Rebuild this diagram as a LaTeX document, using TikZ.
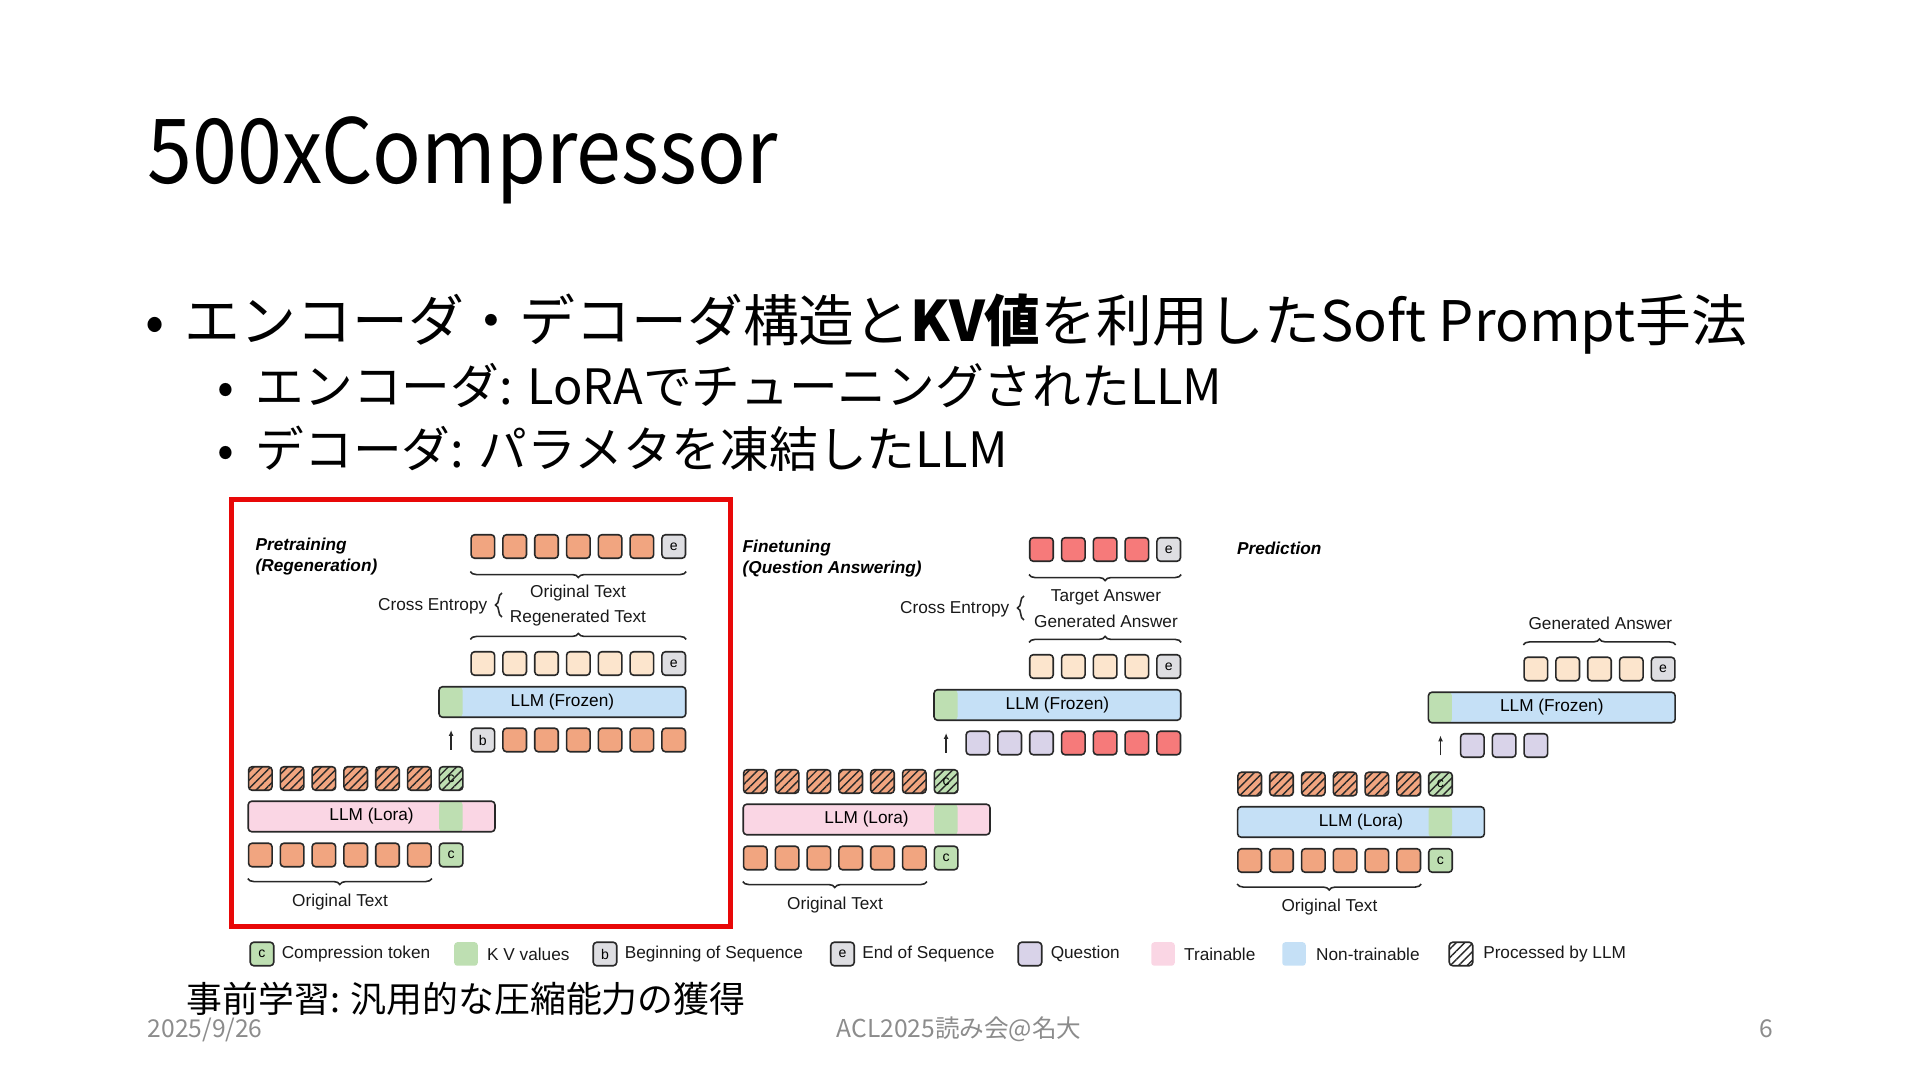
\documentclass[tikz,border=0pt]{standalone}
\usepackage{fontspec}
\setmainfont{Noto Sans CJK JP}
\newfontfamily\arialfont{Liberation Sans}
\usepackage{xcolor}
\usepackage{tikz}
\usetikzlibrary{decorations.pathreplacing}
\usetikzlibrary{positioning,patterns.meta,arrows.meta}

\definecolor{tokline}{RGB}{40,40,40}
\definecolor{tokorange}{RGB}{241,165,128}
\definecolor{tokred}{RGB}{246,122,122}
\definecolor{tokpeach}{RGB}{252,229,205}
\definecolor{tokgrey}{RGB}{222,222,226}
\definecolor{kvgreen}{RGB}{190,223,178}
\definecolor{quespurple}{RGB}{217,211,233}
\definecolor{trainpink}{RGB}{250,214,228}
\definecolor{frozenblue}{RGB}{197,224,246}
\definecolor{framered}{RGB}{232,8,8}
\definecolor{footgrey}{RGB}{140,140,140}

\tikzset{
	tokbox/.style={rectangle, rounded corners=0.035cm, draw=tokline, line width=0.45pt, minimum size=0.235cm, inner sep=0pt, font=\arialfont\fontsize{4}{4}\selectfont},
	origtok/.style={tokbox, fill=tokorange},
	tgttok/.style={tokbox, fill=tokred},
	gentok/.style={tokbox, fill=tokpeach},
	spectok/.style={tokbox, fill=tokgrey},
	comptok/.style={tokbox, fill=kvgreen},
	questok/.style={tokbox, fill=quespurple},
	hatchtok/.style={tokbox, preaction={fill=#1}, pattern={Lines[angle=45,distance=1.7pt,line width=0.4pt]}, pattern color=tokline}
}
\tikzset{
	llmbar/.style={rectangle, rounded corners=0.035cm, draw=tokline, line width=0.45pt, minimum width=2.466cm, minimum height=0.305cm, inner sep=0pt, font=\arialfont\fontsize{4.9}{6}\selectfont},
	kvstrip/.style={path picture={\fill[kvgreen] ([xshift=#1]path picture bounding box.south west) rectangle ([xshift=#1+0.235cm]path picture bounding box.north west);}},
	lbl/.style={font=\arialfont\fontsize{4.9}{6}\selectfont, inner sep=0pt, text=black!90},
	stagetitle/.style={font=\arialfont\bfseries\itshape\fontsize{4.9}{6}\selectfont, align=left, anchor=north west, inner sep=0pt},
	tokbrace/.style={decorate, decoration={brace, amplitude=0.06cm}, line width=0.45pt, draw=tokline},
	tokarrow/.style={-{Latex[length=0.06cm, width=0.05cm]}, line width=0.45pt, draw=tokline},
	swatch/.style={rectangle, rounded corners=0.03cm, minimum size=0.235cm, inner sep=0pt},
	slidetext/.style={anchor=base west, inner sep=0pt}
}

\begin{document}
\begin{tikzpicture}[x=0.01cm, y=-0.01cm]
	\useasboundingbox (0,0) rectangle (1920,1080);
	
	%Slide text
	\node[slidetext, xscale=0.9, transform shape, font=\fontsize{25.5}{30}\selectfont] (title) at (147,184) {500xCompressor};
	\node[anchor=base, inner sep=0pt, font=\fontsize{16}{20}\selectfont] (dot1) at (155,341.6) {•};
	\node[slidetext, font=\fontsize{15.88}{20}\selectfont] (line1) at (184,341.6) {エンコーダ・デコーダ構造と\textbf{KV値}を利用したSoft Prompt手法};
	\node[anchor=base, inner sep=0pt, font=\fontsize{14}{18}\selectfont] (dot2) at (226,405) {•};
	\node[slidetext, font=\fontsize{13.85}{18}\selectfont] (line2) at (255,405) {エンコーダ: LoRAでチューニングされたLLM};
	\node[anchor=base, inner sep=0pt, font=\fontsize{14}{18}\selectfont] (dot3) at (226,468) {•};
	\node[slidetext, font=\fontsize{13.85}{18}\selectfont] (line3) at (255,468) {デコーダ: パラメタを凍結したLLM};
	
	%Pretraining
	\node[stagetitle] (pretitle) at (255,537) {Pretraining\\(Regeneration)};
	\foreach \k in {7,...,12} \node[origtok] (pretop\k) at ({260.3+31.8*\k},546.5) {};
	\node[spectok] (pretop13) at ({260.3+31.8*13},546.5) {e};
	\foreach \k in {7,...,12} \node[gentok] (pregen\k) at ({260.3+31.8*\k},663.5) {};
	\node[spectok] (pregen13) at ({260.3+31.8*13},663.5) {e};
	\node[llmbar, fill=frozenblue, kvstrip=0cm] (prefrozen) at (562.4,702) {LLM (Frozen)};
	\node[spectok] (predec7) at ({260.3+31.8*7},740) {b};
	\foreach \k in {8,...,13} \node[origtok] (predec\k) at ({260.3+31.8*\k},740) {};
	\foreach \k in {0,...,5} \node[hatchtok=tokorange] (prehat\k) at ({260.3+31.8*\k},778.5) {};
	\node[hatchtok=kvgreen] (prehat6) at ({260.3+31.8*6},778.5) {c};
	\node[llmbar, fill=trainpink, kvstrip=1.908cm] (prelora) at (371.6,816.5) {LLM (Lora)};
	\foreach \k in {0,...,5} \node[origtok] (prein\k) at ({260.3+31.8*\k},855) {};
	\node[comptok] (prein6) at ({260.3+31.8*6},855) {c};
	\node[lbl] (preorig) at (578,593) {Original Text};
	\node[lbl] (preregen) at (578,618) {Regenerated Text};
	\node[lbl, anchor=east] (precross) at (488,606) {Cross Entropy};
	\node[lbl] (preinlbl) at (340,902) {Original Text};
	\coordinate (precb1) at (502,617);
	\coordinate (precb2) at (502,593);
	\coordinate (prearr1) at (451.1,750);
	\coordinate (prearr2) at (451.1,730);
	%Lines
	\draw[tokbrace] ([yshift=-0.125cm]pretop13.south east) -- ([yshift=-0.125cm]pretop7.south west);
	\draw[tokbrace] ([yshift=0.115cm]pregen7.north west) -- ([yshift=0.115cm]pregen13.north east);
	\draw[tokbrace, decoration={amplitude=0.065cm}] (precb1) -- (precb2);
	\draw[tokbrace] ([yshift=-0.11cm]prein5.south east) -- ([yshift=-0.11cm]prein0.south west);
	\draw[tokarrow] (prearr1) -- (prearr2);
	
	%Finetuning
	\begin{scope}[shift={(495,3)}]
		\node[stagetitle] (fintitle) at (247,536) {Finetuning\\(Question Answering)};
		\foreach \k in {9,...,12} \node[tgttok] (fintop\k) at ({260.3+31.8*\k},546.5) {};
		\node[spectok] (fintop13) at ({260.3+31.8*13},546.5) {e};
		\foreach \k in {9,...,12} \node[gentok] (fingen\k) at ({260.3+31.8*\k},663.5) {};
		\node[spectok] (fingen13) at ({260.3+31.8*13},663.5) {e};
		\node[llmbar, fill=frozenblue, kvstrip=0cm] (finfrozen) at (562.4,702) {LLM (Frozen)};
		\foreach \k in {7,8,9} \node[questok] (findec\k) at ({260.3+31.8*\k},740) {};
		\foreach \k in {10,...,13} \node[tgttok] (findec\k) at ({260.3+31.8*\k},740) {};
		\foreach \k in {0,...,5} \node[hatchtok=tokorange] (finhat\k) at ({260.3+31.8*\k},778.5) {};
		\node[hatchtok=kvgreen] (finhat6) at ({260.3+31.8*6},778.5) {c};
		\node[llmbar, fill=trainpink, kvstrip=1.908cm] (finlora) at (371.6,816.5) {LLM (Lora)};
		\foreach \k in {0,...,5} \node[origtok] (finin\k) at ({260.3+31.8*\k},855) {};
		\node[comptok] (finin6) at ({260.3+31.8*6},855) {c};
		\node[lbl] (fintarget) at (611,594) {Target Answer};
		\node[lbl] (fingenlbl) at (611,618) {Generated Answer};
		\node[lbl, anchor=east] (fincross) at (515,606) {Cross Entropy};
		\node[lbl] (fininlbl) at (340,902) {Original Text};
		\coordinate (fincb1) at (529,617);
		\coordinate (fincb2) at (529,593);
		\coordinate (finarr1) at (451.1,750);
		\coordinate (finarr2) at (451.1,730);
		%Lines
		\draw[tokbrace] ([yshift=-0.125cm]fintop13.south east) -- ([yshift=-0.125cm]fintop9.south west);
		\draw[tokbrace] ([yshift=0.115cm]fingen9.north west) -- ([yshift=0.115cm]fingen13.north east);
		\draw[tokbrace, decoration={amplitude=0.065cm}] (fincb1) -- (fincb2);
		\draw[tokbrace] ([yshift=-0.11cm]finin5.south east) -- ([yshift=-0.11cm]finin0.south west);
		\draw[tokarrow] (finarr1) -- (finarr2);
	\end{scope}
	
	%Prediction
	\begin{scope}[shift={(989.4,5.5)}]
		\node[stagetitle] (predtitle) at (247,536) {Prediction};
		\foreach \k in {9,...,12} \node[gentok] (predgen\k) at ({260.3+31.8*\k},663.5) {};
		\node[spectok] (predgen13) at ({260.3+31.8*13},663.5) {e};
		\node[llmbar, fill=frozenblue, kvstrip=0cm] (predfrozen) at (562.4,702) {LLM (Frozen)};
		\foreach \k in {7,8,9} \node[questok] (preddec\k) at ({260.3+31.8*\k},740) {};
		\foreach \k in {0,...,5} \node[hatchtok=tokorange] (predhat\k) at ({260.3+31.8*\k},778.5) {};
		\node[hatchtok=kvgreen] (predhat6) at ({260.3+31.8*6},778.5) {c};
		\node[llmbar, fill=frozenblue, kvstrip=1.908cm] (predlora) at (371.6,816.5) {LLM (Lora)};
		\foreach \k in {0,...,5} \node[origtok] (predin\k) at ({260.3+31.8*\k},855) {};
		\node[comptok] (predin6) at ({260.3+31.8*6},855) {c};
		\node[lbl] (predgenlbl) at (611,618) {Generated Answer};
		\node[lbl] (predinlbl) at (340,902) {Original Text};
		\coordinate (predarr1) at (451.1,750);
		\coordinate (predarr2) at (451.1,730);
		%Lines
		\draw[tokbrace] ([yshift=0.115cm]predgen9.north west) -- ([yshift=0.115cm]predgen13.north east);
		\draw[tokbrace] ([yshift=-0.11cm]predin5.south east) -- ([yshift=-0.11cm]predin0.south west);
		\draw[tokarrow] (predarr1) -- (predarr2);
	\end{scope}
	
	\draw[framered, line width=0.05cm] (231,500) rectangle (730,927);
	
	%Legend
	\node[comptok] (lgcomp) at (262,954) {c};
	\node[lbl, right=0.065cm of lgcomp] (lgcomptxt) {Compression token};
	\node[swatch, fill=kvgreen] (lgkv) at (466,954) {};
	\node[lbl, right=0.08cm of lgkv] (lgkvtxt) {K V values};
	\node[spectok] (lgbos) at (605,954) {b};
	\node[lbl, right=0.065cm of lgbos] (lgbostxt) {Beginning of Sequence};
	\node[spectok] (lgeos) at (842.5,954) {e};
	\node[lbl, right=0.065cm of lgeos] (lgeostxt) {End of Sequence};
	\node[questok] (lgques) at (1030,954) {};
	\node[lbl, right=0.075cm of lgques] (lgquestxt) {Question};
	\node[swatch, fill=trainpink] (lgtrain) at (1163,954) {};
	\node[lbl, right=0.08cm of lgtrain] (lgtraintxt) {Trainable};
	\node[swatch, fill=frozenblue] (lgfroz) at (1294,954) {};
	\node[lbl, right=0.09cm of lgfroz] (lgfroztxt) {Non-trainable};
	\node[hatchtok=white] (lghat) at (1461,954) {};
	\node[lbl, right=0.09cm of lghat] (lghattxt) {Processed by LLM};
	
	%Footer
	\node[slidetext, font=\fontsize{10.2}{12}\selectfont] (note) at (186,1013) {事前学習: 汎用的な圧縮能力の獲得};
	\node[slidetext, text=footgrey, font=\fontsize{7}{8}\selectfont] (date) at (147,1038) {2025/9/26};
	\node[anchor=base, inner sep=0pt, text=footgrey, font=\fontsize{7}{8}\selectfont] (event) at (959,1038) {ACL2025読み会@名大};
	\node[anchor=base, inner sep=0pt, text=footgrey, font=\fontsize{7}{8}\selectfont] (page) at (1766,1038) {6};
\end{tikzpicture}
\end{document}
